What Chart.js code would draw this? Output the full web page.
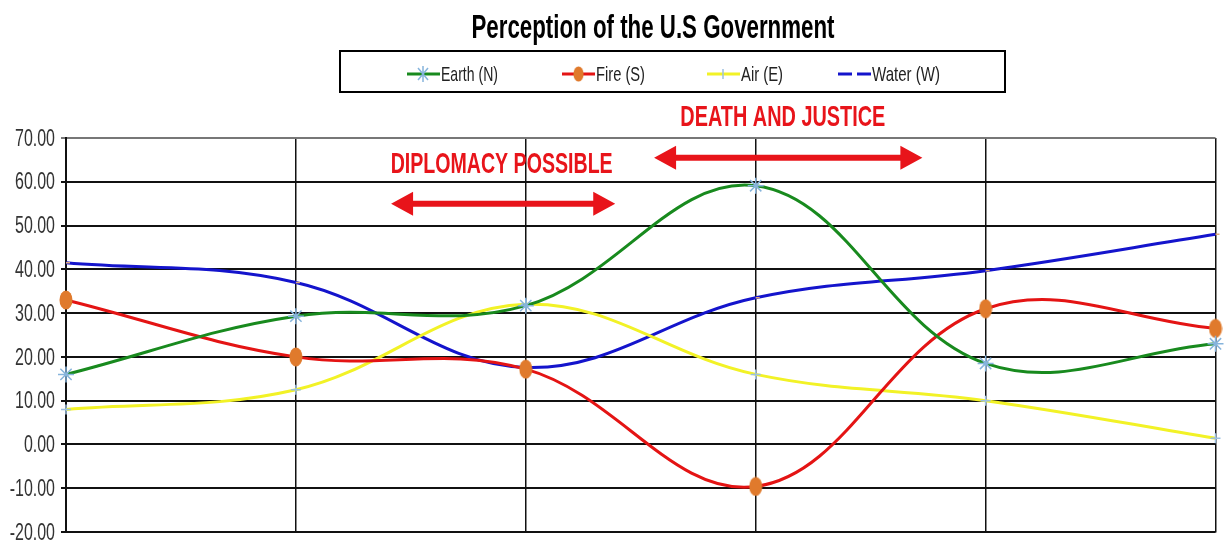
<!DOCTYPE html>
<html>
<head>
<meta charset="utf-8">
<script src="https://cdn.jsdelivr.net/npm/chart.js@4"></script>
<style>
  body { margin: 0; background: #fff; }
  #wrap { width: 1225px; height: 546px; }
</style>
</head>
<body>
<div id="wrap"><canvas id="chart" width="1225" height="546"></canvas></div>
<script>
// Data
const categories = ['1', '2', '3', '4', '5', '6'];
const earthN = [16.0, 29.3, 31.7, 59.1, 18.5, 23.0];
const fireS  = [33.0, 20.0, 17.2, -9.6, 31.0, 26.5];
const airE   = [8.0, 12.5, 32.0, 16.0, 10.0, 1.4];
const waterW = [41.5, 37.0, 17.6, 33.5, 39.7, 48.0];

const yTicks = [70, 60, 50, 40, 30, 20, 10, 0, -10, -20];

const titleText = 'Perception of the U.S Government';
// annotation labels and arrows (category units / values)
const notes = [
    { text: 'DIPLOMACY POSSIBLE', x: 1.895, y: 64.0, w: 222, from: 1.414, to: 2.389, ay: 55.0 },
    { text: 'DEATH AND JUSTICE',  x: 3.118, y: 74.6, w: 205, from: 2.558, to: 3.725, ay: 65.5 }
];

const FONT = "'Liberation Sans', Arial, sans-serif";

// draws text squeezed horizontally to a given width (narrow look)
function fitText(ctx, text, x, y, w, align) {
    const m = ctx.measureText(text).width;
    const sx = w / m;
    ctx.save();
    ctx.translate(x, y);
    ctx.scale(sx, 1);
    ctx.textAlign = align;
    ctx.fillText(text, 0, 0);
    ctx.restore();
}

// vertical ellipse marker for Fire
const fireDot = document.createElement('canvas');
fireDot.width = 14; fireDot.height = 20;
(function() {
    const c = fireDot.getContext('2d');
    c.fillStyle = '#e07a2c';
    c.beginPath();
    c.ellipse(7, 10, 6.5, 9.5, 0, 0, Math.PI * 2);
    c.fill();
})();

const series = [
    { label: 'Earth (N)', data: earthN, color: '#188a1e', point: 'star', pointColor: '#86b4dc', r: 8 },
    { label: 'Fire (S)',  data: fireS,  color: '#e41414', point: fireDot, pointColor: '#e07a2c', r: 7 },
    { label: 'Air (E)',   data: airE,   color: '#f2f226', point: 'cross', pointColor: '#9cc0e0', r: 5 },
    { label: 'Water (W)', data: waterW, color: '#1414cc', point: 'dash', pointColor: '#e0a878', r: 4 }
];
// legend sample start / text width
const legendX = [407, 562, 707, 838];
const legendW = [57, 49, 42, 68];

// title, legend box, tick labels and annotations
const decorPlugin = {
    id: 'decor',
    afterDraw(chart) {
        const ctx = chart.ctx;
        const xs = chart.scales.x, ys = chart.scales.y;
        ctx.save();
        ctx.textBaseline = 'middle';

        // title
        ctx.fillStyle = '#000';
        ctx.font = 'bold 33px ' + FONT;
        fitText(ctx, titleText, 653, 29, 363, 'center');

        // y tick labels
        ctx.fillStyle = '#333';
        ctx.font = '24px ' + FONT;
        const k = 40 / ctx.measureText('70.00').width;
        yTicks.forEach(v => {
            const t = v.toFixed(2);
            fitText(ctx, t, 55, ys.getPixelForValue(v) + 1, ctx.measureText(t).width * k, 'right');
        });

        // legend box
        ctx.strokeStyle = '#000';
        ctx.lineWidth = 2;
        ctx.strokeRect(340, 51, 665, 41);
        ctx.font = '21px ' + FONT;
        series.forEach((s, i) => {
            const x0 = legendX[i], y0 = 74;
            ctx.strokeStyle = s.color;
            ctx.lineWidth = 3;
            ctx.beginPath();
            if (i === 3) ctx.setLineDash([14, 5]);
            ctx.moveTo(x0, y0); ctx.lineTo(x0 + 33, y0);
            ctx.stroke();
            ctx.setLineDash([]);
            const mx = x0 + 16;
            if (i === 0) {
                ctx.strokeStyle = s.pointColor; ctx.lineWidth = 1.5;
                ctx.beginPath();
                ctx.moveTo(mx - 5, y0 - 6); ctx.lineTo(mx + 5, y0 + 6);
                ctx.moveTo(mx + 5, y0 - 6); ctx.lineTo(mx - 5, y0 + 6);
                ctx.moveTo(mx, y0 - 8); ctx.lineTo(mx, y0 + 8);
                ctx.stroke();
            } else if (i === 1) {
                ctx.drawImage(fireDot, mx - 5, y0 - 8, 11, 16);
            } else if (i === 2) {
                ctx.strokeStyle = s.pointColor; ctx.lineWidth = 1.5;
                ctx.beginPath();
                ctx.moveTo(mx, y0 - 5); ctx.lineTo(mx, y0 + 5);
                ctx.stroke();
            }
            ctx.fillStyle = '#222';
            fitText(ctx, s.label, x0 + 34, y0 + 1, legendW[i], 'left');
        });

        // annotations
        ctx.fillStyle = '#e8141a';
        ctx.strokeStyle = '#e8141a';
        ctx.font = 'bold 30px ' + FONT;
        notes.forEach(n => {
            fitText(ctx, n.text, xs.getPixelForValue(n.x), ys.getPixelForValue(n.y), n.w, 'center');
            const a = xs.getPixelForValue(n.from), b = xs.getPixelForValue(n.to);
            const y = ys.getPixelForValue(n.ay);
            ctx.lineWidth = 6;
            ctx.beginPath();
            ctx.moveTo(a + 15, y); ctx.lineTo(b - 15, y);
            ctx.stroke();
            ctx.beginPath();
            ctx.moveTo(a, y); ctx.lineTo(a + 22, y - 12); ctx.lineTo(a + 22, y + 12); ctx.closePath();
            ctx.moveTo(b, y); ctx.lineTo(b - 22, y - 12); ctx.lineTo(b - 22, y + 12); ctx.closePath();
            ctx.fill();
        });
        ctx.restore();
    }
};

new Chart(document.getElementById('chart').getContext('2d'), {
    type: 'line',
    data: {
        labels: categories,
        datasets: series.map(s => ({
            label: s.label,
            data: s.data,
            borderColor: s.color,
            backgroundColor: s.pointColor,
            borderWidth: 3,
            tension: 0.38,
            pointStyle: s.point,
            pointRadius: s.r,
            pointBorderColor: s.pointColor,
            pointBackgroundColor: s.pointColor,
            pointBorderWidth: 1.5,
            fill: false
        }))
    },
    options: {
        responsive: false,
        animation: false,
        layout: { padding: { top: 138, right: 5, bottom: 14, left: 0 } },
        plugins: {
            legend: { display: false },
            title: { display: false },
            tooltip: { enabled: false }
        },
        scales: {
            x: {
                offset: false,
                ticks: { display: false },
                grid: { color: '#111', lineWidth: 1.5, drawTicks: false },
                border: { display: true, color: '#111', width: 1.5 },
                afterFit(scale) { scale.height = 0; }
            },
            y: {
                min: -20,
                max: 70,
                afterBuildTicks(scale) { scale.ticks = yTicks.map(v => ({ value: v })); },
                ticks: {
                    color: 'rgba(0,0,0,0)',
                    font: { family: FONT, size: 12 },
                    padding: 4,
                    callback: v => v.toFixed(2)
                },
                grid: {
                    color: ctx => ctx.tick && ctx.tick.value === 70 ? '#777' : '#111',
                    lineWidth: 2,
                    tickLength: 5
                },
                border: { display: true, color: '#111', width: 2 },
                afterFit(scale) { scale.width = 66; }
            }
        }
    },
    plugins: [decorPlugin]
});
</script>
</body>
</html>
